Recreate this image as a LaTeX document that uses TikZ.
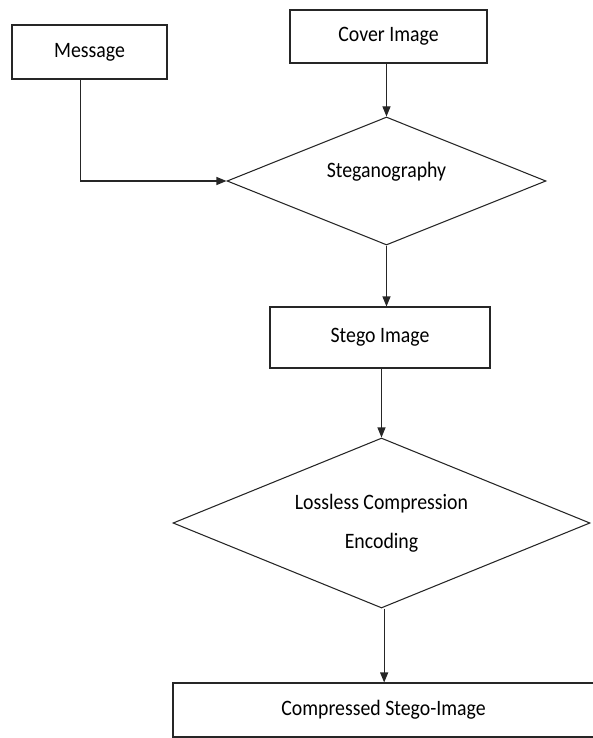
\documentclass[tikz,border=0pt]{standalone}
\usepackage{fontspec}
\setmainfont{Carlito}[FakeStretch=0.9]
\usetikzlibrary{arrows.meta,shapes.geometric}

\tikzset{
	box/.style={draw=black!85,line width=0.8pt,rectangle,inner sep=0pt},
	decision/.style={draw=black!85,line width=0.8pt,diamond,shape aspect=2.5,inner sep=0pt},
	arr/.style={draw=black!85,line width=0.8pt,-{Triangle[length=7.5pt,width=6pt]}}
}

\begin{document}
\begin{tikzpicture}[x=0.75pt,y=-0.75pt,font=\fontsize{16.5}{29}\selectfont]
	\useasboundingbox (0,0) rectangle (592,738);
	\node [box,minimum width=116.25pt,minimum height=40.5pt] (msg) at (89.5,52) {Message};
	\node [box,minimum width=147.75pt,minimum height=39.75pt] (cover) at (388.5,36.5) {Cover Image};
	\node [decision,minimum width=239.25pt,minimum height=96pt,label={[yshift=6.75pt]center:Steganography}] (steg) at (386.5,181) {};
	\node [box,minimum width=165pt,minimum height=45.75pt] (stego) at (380,337.5) {Stego Image};
	\node [decision,minimum width=312.75pt,minimum height=127.5pt,align=center] (lossless) at (381.5,523) {Lossless Compression\\Encoding};
	\node [box,minimum width=315.75pt,minimum height=40.5pt] (comp) at (383.5,710) {Compressed Stego-Image};
	%
	%
	%
	\draw [arr] ([xshift=-7pt]msg.south) |- (steg.west);
	\draw [arr] (steg.north |- cover.south) -- (steg.north);
	\draw [arr] (steg.south) -- (steg.south |- stego.north);
	\draw [arr] (lossless.north |- stego.south) -- (lossless.north);
	\draw [arr] ([xshift=2pt]lossless.south) -- ([xshift=2pt]lossless.south |- comp.north);
\end{tikzpicture}
\end{document}
